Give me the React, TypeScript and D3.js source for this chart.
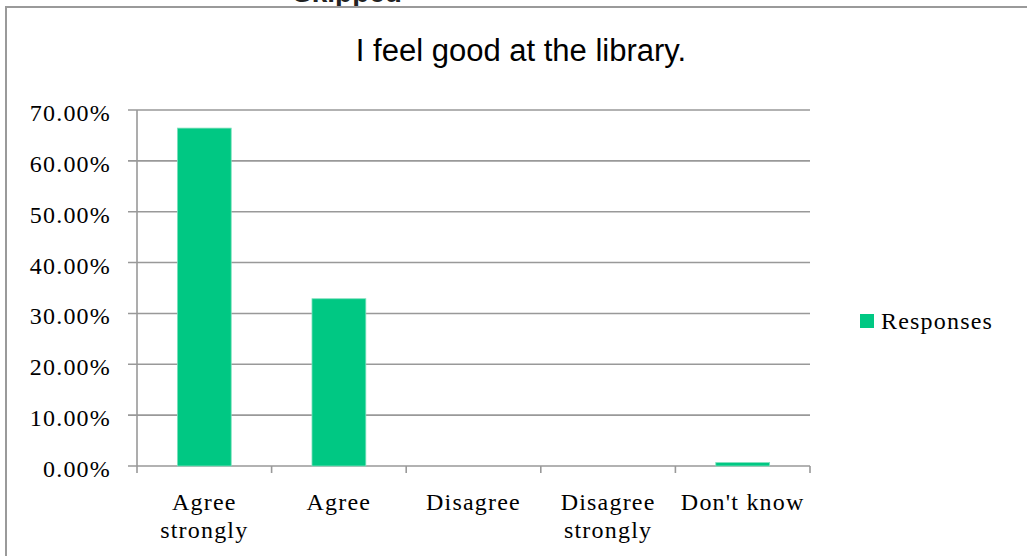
import React from "react";
import * as d3 from "d3";

const categories = ["Agree strongly", "Agree", "Disagree", "Disagree strongly", "Don't know"];
const categoryLines = [["Agree", "strongly"], ["Agree"], ["Disagree"], ["Disagree", "strongly"], ["Don't know"]];
const responses = [0.6644, 0.3289, 0, 0, 0.0067];
const yTicks = [0, 0.1, 0.2, 0.3, 0.4, 0.5, 0.6, 0.7];
const seriesName = "Responses";
const title = "I feel good at the library.";

const W = 1027;
const H = 556;
const plotLeft = 137;
const plotRight = 810;
const plotTop = 110;
const plotBottom = 466;

const grid = "#999999";
const barColor = "#00C883";
const serif = "'Liberation Serif', serif";

export default function App() {
  const x = d3
    .scaleBand<string>()
    .domain(categories)
    .range([plotLeft, plotRight])
    .paddingInner(0.6)
    .paddingOuter(0.3);
  const y = d3.scaleLinear().domain([0, 0.7]).range([plotBottom, plotTop]);
  const step = x.step();
  const fmt = (v: number) => (v * 100).toFixed(2) + "%";
  const boundaries = d3.range(categories.length + 1).map((i) => plotLeft + i * step);

  return (
    <div style={{ position: "absolute", left: 0, top: 0 }}>
      <svg width={W} height={H} style={{ display: "block", background: "#fff" }}>
        {/* header text that runs off the top edge above the chart frame */}
        <text x={293} y={1.5} fontFamily="'Liberation Sans', Arial, sans-serif" fontWeight="bold" fontSize={28} fill="#222">
          Skipped
        </text>
        {/* chart frame */}
        <path d={`M6,${H + 10} V7 H${W + 10}`} fill="none" stroke="#9a9a9a" strokeWidth={2} />

        <text
          x={521}
          y={61}
          textAnchor="middle"
          fontFamily="'Liberation Sans', Arial, sans-serif"
          fontSize={31}
          fill="#000"
        >
          {title}
        </text>

        {/* gridlines and y ticks */}
        {yTicks.map((t) => (
          <g key={t}>
            <line x1={128} x2={plotRight} y1={y(t)} y2={y(t)} stroke={grid} strokeWidth={1.6} />
            <text
              x={111}
              y={y(t) + 11}
              textAnchor="end"
              fontFamily={serif}
              fontSize={24}
              letterSpacing={1.2}
              fill="#000"
            >
              {fmt(t)}
            </text>
          </g>
        ))}

        {/* y axis */}
        <line x1={plotLeft} x2={plotLeft} y1={plotTop} y2={plotBottom} stroke={grid} strokeWidth={1.6} />
        {/* x axis ticks at category boundaries */}
        {boundaries.map((b, i) => (
          <line key={i} x1={b} x2={b} y1={plotBottom} y2={plotBottom + 7} stroke={grid} strokeWidth={1.6} />
        ))}

        {/* bars */}
        {categories.map((c, i) => (
          <rect
            key={c}
            x={x(c)!}
            y={y(responses[i])}
            width={x.bandwidth()}
            height={plotBottom - y(responses[i])}
            fill={barColor}
            stroke="#7fe0bd"
            strokeWidth={0.8}
          />
        ))}

        {/* category labels */}
        {categories.map((c, i) => (
          <text
            key={c}
            x={x(c)! + x.bandwidth() / 2}
            y={510}
            textAnchor="middle"
            fontFamily={serif}
            fontSize={24}
            letterSpacing={1.2}
            fill="#000"
          >
            {categoryLines[i].map((ln, j) => (
              <tspan key={j} x={x(c)! + x.bandwidth() / 2} dy={j === 0 ? 0 : 28}>
                {ln}
              </tspan>
            ))}
          </text>
        ))}

        {/* legend */}
        <rect x={860} y={314} width={14} height={14} fill={barColor} />
        <text x={881} y={329} fontFamily={serif} fontSize={24} letterSpacing={1.2} fill="#000">
          {seriesName}
        </text>
      </svg>
    </div>
  );
}
